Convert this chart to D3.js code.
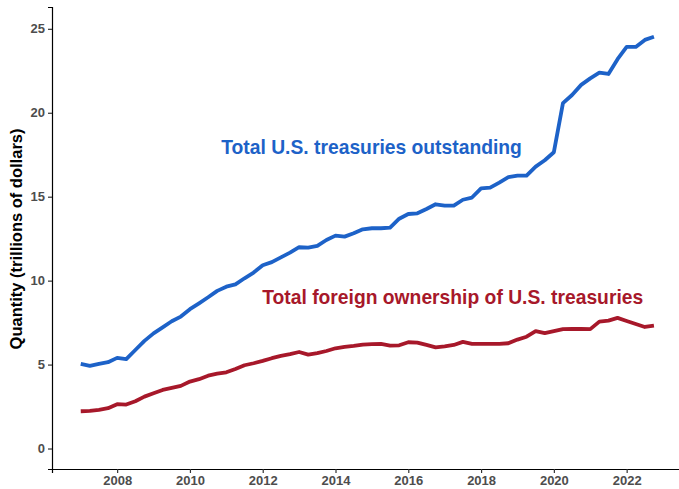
<!DOCTYPE html>
<html lang="en">
<head>
<meta charset="utf-8">
<title>U.S. treasuries</title>
<script src="https://d3js.org/d3.v7.min.js"></script>
<style>
  body { margin: 0; background: #fff; }
  text { font-family: "Liberation Sans", Arial, sans-serif; }
</style>
</head>
<body>
<script>
// quarterly observations, 2007 Q1 .. 2022 Q4
var quarters = d3.range(64).map(function (i) { return 2007 + i / 4; });

// total U.S. treasuries outstanding (trillions)
var totalOutstanding = [
  5.04, 4.92, 5.04, 5.14, 5.40, 5.32, 5.87, 6.41, 6.86, 7.22, 7.58, 7.86,
  8.30, 8.65, 9.01, 9.39, 9.64, 9.78, 10.14, 10.48, 10.92, 11.10, 11.39, 11.67,
  11.99, 11.97, 12.07, 12.42, 12.68, 12.62, 12.82, 13.06, 13.12, 13.12, 13.16, 13.69,
  13.97, 14.01, 14.27, 14.55, 14.47, 14.47, 14.82, 14.95, 15.50, 15.54, 15.84, 16.16,
  16.25, 16.25, 16.79, 17.17, 17.65, 20.57, 21.06, 21.66, 22.05, 22.39, 22.31, 23.19,
  23.92, 23.92, 24.34, 24.53
];

// total foreign ownership of U.S. treasuries (trillions)
var foreignOwned = [
  2.22, 2.24, 2.30, 2.40, 2.64, 2.62, 2.82, 3.09, 3.29, 3.49, 3.61, 3.73,
  3.99, 4.13, 4.34, 4.46, 4.54, 4.74, 4.96, 5.08, 5.22, 5.38, 5.52, 5.62,
  5.75, 5.59, 5.68, 5.81, 5.97, 6.05, 6.11, 6.19, 6.22, 6.23, 6.13, 6.15,
  6.33, 6.31, 6.17, 6.03, 6.09, 6.17, 6.35, 6.23, 6.23, 6.23, 6.23, 6.27,
  6.49, 6.66, 6.99, 6.87, 6.99, 7.11, 7.12, 7.12, 7.11, 7.56, 7.62, 7.78,
  7.60, 7.42, 7.24, 7.32
];

var xTicks = [2008, 2010, 2012, 2014, 2016, 2018, 2020, 2022];
var yTicks = [0, 5, 10, 15, 20, 25];

var w = 679, h = 489;
var blue = "#1d62c8", red = "#a7182a";

var x = d3.scaleLinear().domain([2006.21, 2023.54]).range([52, 682.7]);
var y = d3.scaleLinear().domain([-1.22, 26.3]).range([469, 7]);

var svg = d3.select("body").append("svg")
  .attr("width", w)
  .attr("height", h);

// axes
var xAxis = svg.append("g")
  .attr("transform", "translate(0,469)")
  .call(d3.axisBottom(x).tickValues(xTicks).tickFormat(d3.format("d")).tickSizeOuter(0).tickSize(4).tickPadding(3));
var yAxis = svg.append("g")
  .attr("transform", "translate(52,0)")
  .call(d3.axisLeft(y).tickValues(yTicks).tickSizeOuter(0).tickSize(4).tickPadding(3));

[xAxis, yAxis].forEach(function (g) {
  g.select(".domain").attr("stroke", "#000").attr("stroke-width", 1.2);
  g.selectAll(".tick line").attr("stroke", "#333").attr("stroke-width", 1.2);
  g.selectAll(".tick text")
    .attr("fill", "#4d4d4d")
    .style("font-size", "13px")
    .style("font-weight", "bold");
});

svg.append("text")
  .attr("transform", "translate(22,239) rotate(-90)")
  .attr("text-anchor", "middle")
  .style("font-size", "16.5px")
  .style("font-weight", "bold")
  .attr("fill", "#000")
  .text("Quantity (trillions of dollars)");

// lines
var line = function (vals) {
  return d3.line()
    .x(function (d, i) { return x(quarters[i]); })
    .y(function (d) { return y(d); })(vals);
};

svg.append("path")
  .attr("d", line(foreignOwned))
  .attr("fill", "none")
  .attr("stroke", red)
  .attr("stroke-width", 3.8)
  .attr("stroke-linejoin", "round");

svg.append("path")
  .attr("d", line(totalOutstanding))
  .attr("fill", "none")
  .attr("stroke", blue)
  .attr("stroke-width", 3.8)
  .attr("stroke-linejoin", "round");

// labels
svg.append("text")
  .attr("x", x(2014.99)).attr("y", y(17.95))
  .attr("dy", "0.35em")
  .attr("text-anchor", "middle")
  .style("font-size", "19.3px").style("font-weight", "bold")
  .attr("fill", blue)
  .text("Total U.S. treasuries outstanding");

svg.append("text")
  .attr("x", x(2017.22)).attr("y", y(9.0))
  .attr("dy", "0.35em")
  .attr("text-anchor", "middle")
  .style("font-size", "19.3px").style("font-weight", "bold")
  .attr("fill", red)
  .text("Total foreign ownership of U.S. treasuries");
</script>
</body>
</html>
